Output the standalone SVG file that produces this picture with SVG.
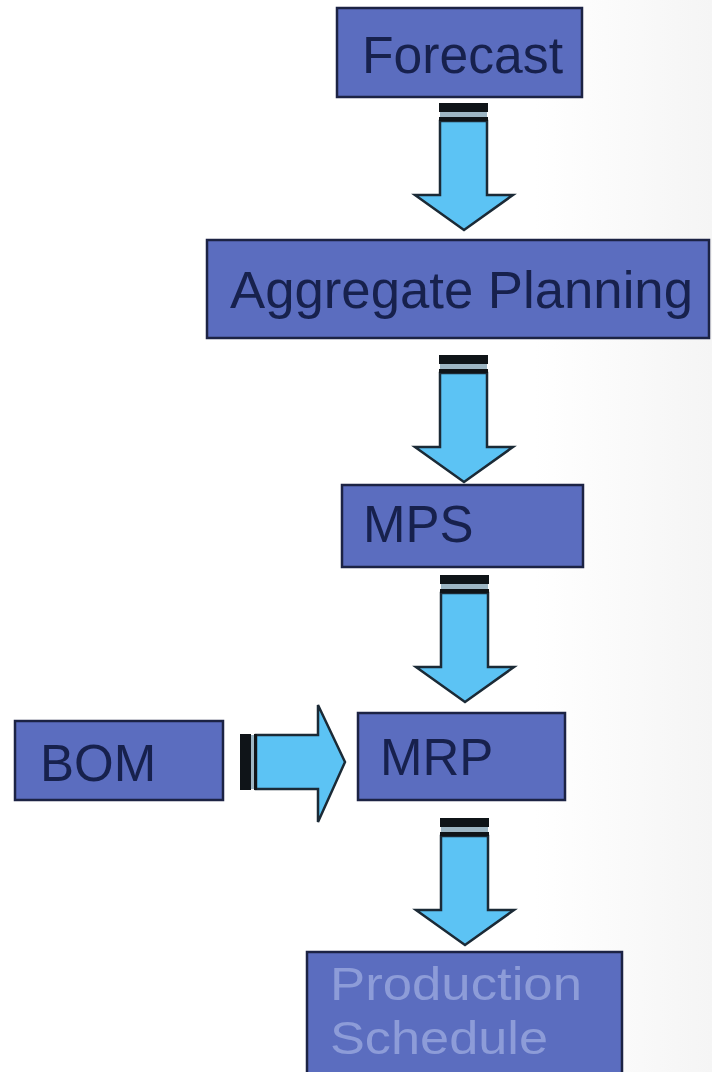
<svg xmlns="http://www.w3.org/2000/svg" xmlns:xlink="http://www.w3.org/1999/xlink" width="712" height="1072" viewBox="0 0 712 1072">
  <style>
    .box { fill: #5b6dbf; stroke: #1c2344; stroke-width: 2.5; }
    .lbl { font-family: "Liberation Sans", Arial, sans-serif; font-size: 51px; fill: #17214d; }
    .lbl-light { font-family: "Liberation Sans", Arial, sans-serif; font-size: 47px; fill: #8d9cd8; }
    .shaft { fill: #5cc3f4; stroke: #1b2a36; stroke-width: 2.5; stroke-linejoin: miter; }
    .band { fill: #0f1418; }
    .stripe { fill: #9db6c4; }
  </style>
  <defs>
    <linearGradient id="bg" x1="0" y1="0" x2="1" y2="0">
      <stop offset="0" stop-color="#ffffff"/>
      <stop offset="0.75" stop-color="#ffffff"/>
      <stop offset="1" stop-color="#f5f5f5"/>
    </linearGradient>
    <g id="downArrow">
      <path class="shaft" d="M -23 18 L 24 18 L 24 92 L 50 92 L 1 127 L -48 92 L -23 92 Z"/>
      <rect class="band" x="-24" y="0" width="49" height="9"/>
      <rect class="stripe" x="-23" y="9" width="47" height="5"/>
      <rect class="band" x="-24" y="14" width="49" height="4"/>
    </g>
  </defs>
  <rect x="0" y="0" width="712" height="1072" fill="url(#bg)"/>

  <g id="connectors">
    <use xlink:href="#downArrow" x="463" y="103"/>
    <use xlink:href="#downArrow" x="463" y="355"/>
    <use xlink:href="#downArrow" x="464" y="575"/>
    <use xlink:href="#downArrow" x="464" y="818"/>
    <g id="bom-arrow">
      <path class="shaft" d="M 256 735 L 318 735 L 318 705 L 345 762 L 318 822 L 318 789 L 256 789 Z"/>
      <rect class="band" x="240" y="734" width="11" height="56"/>
      <rect class="stripe" x="251" y="735" width="3" height="54"/>
      <rect class="band" x="254" y="734" width="3" height="56"/>
    </g>
  </g>

  <g id="forecast">
    <rect class="box" x="337" y="8" width="245" height="89"/>
    <text class="lbl" x="362" y="73" textLength="201" lengthAdjust="spacingAndGlyphs">Forecast</text>
  </g>
  <g id="aggregate-planning">
    <rect class="box" x="207" y="240" width="502" height="98"/>
    <text class="lbl" x="230" y="308" textLength="463" lengthAdjust="spacingAndGlyphs">Aggregate Planning</text>
  </g>
  <g id="mps">
    <rect class="box" x="342" y="485" width="241" height="82"/>
    <text class="lbl" x="363" y="542" font-size="47">MPS</text>
  </g>
  <g id="bom">
    <rect class="box" x="15" y="721" width="208" height="79"/>
    <text class="lbl" x="40" y="781">BOM</text>
  </g>
  <g id="mrp">
    <rect class="box" x="358" y="713" width="207" height="87"/>
    <text class="lbl" x="380" y="775">MRP</text>
  </g>
  <g id="production-schedule">
    <rect class="box" x="307" y="952" width="315" height="130"/>
    <text class="lbl-light" x="330" y="1000" textLength="252" lengthAdjust="spacingAndGlyphs">Production</text>
    <text class="lbl-light" x="330" y="1054" textLength="218" lengthAdjust="spacingAndGlyphs">Schedule</text>
  </g>
</svg>
